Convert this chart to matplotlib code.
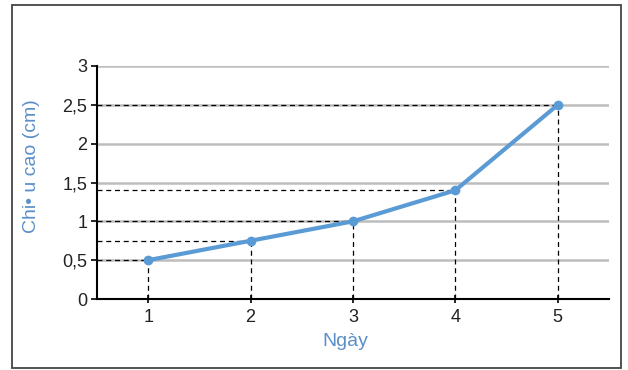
import matplotlib
matplotlib.use("Agg")
import matplotlib.pyplot as plt
from matplotlib.patches import Rectangle

days = [1, 2, 3, 4, 5]
heights = [0.5, 0.75, 1.0, 1.4, 2.5]
y_ticks = [0, 0.5, 1, 1.5, 2, 2.5, 3]
y_tick_labels = ["0", "0,5", "1", "1,5", "2", "2,5", "3"]
x_tick_labels = ["1", "2", "3", "4", "5"]

plt.rcParams['font.family'] = ['Liberation Sans', 'DejaVu Sans']

fig = plt.figure(figsize=(6.28, 3.70), dpi=100)
fig.patches.append(Rectangle((12/628, 1-368/370), (621-12)/628, (368-5)/370,
                             transform=fig.transFigure, fill=False,
                             edgecolor='#444444', linewidth=1.3))
ax = fig.add_axes([97/628, 1-299/370, (609-97)/628, (299-66)/370])

ax.set_xlim(0.5, 5.5)
ax.set_ylim(0, 3)
for yt in y_ticks[1:]:
    ax.axhline(yt, color='#bdbdbd', linewidth=1.8, zorder=0)

for x, y in zip(days, heights):
    ax.plot([0.5, x], [y, y], color='black', linestyle=(0, (4, 3)), linewidth=0.9, zorder=1)
    ax.plot([x, x], [0, y], color='black', linestyle=(0, (4, 3)), linewidth=0.9, zorder=1)

ax.plot(days, heights, color='#5b9bd5', linewidth=3, marker='o', markersize=6, zorder=3)

ax.set_xticks(days)
ax.set_xticklabels(x_tick_labels, fontsize=13, color='#222222')
ax.set_yticks(y_ticks)
ax.set_yticklabels(y_tick_labels, fontsize=13, color='#222222')
ax.tick_params(axis='x', direction='inout', length=6, width=1.2, pad=4)
ax.tick_params(axis='y', direction='out', length=4, width=1.2, pad=3)

for s in ['top', 'right']:
    ax.spines[s].set_visible(False)
for s in ['left', 'bottom']:
    ax.spines[s].set_linewidth(1.5)
    ax.spines[s].set_color('black')

ax.set_xlabel("Ngày", fontsize=14, color='#5b8fc7', va='center')
ax.xaxis.set_label_coords((345-97)/512, (299-342)/233)
ax.set_ylabel("Chi• u cao (cm)", fontsize=14, color='#5b8fc7', va='center')
ax.yaxis.set_label_coords((31-97)/512, (299-166)/233)

fig.savefig("out.png", dpi=100)
